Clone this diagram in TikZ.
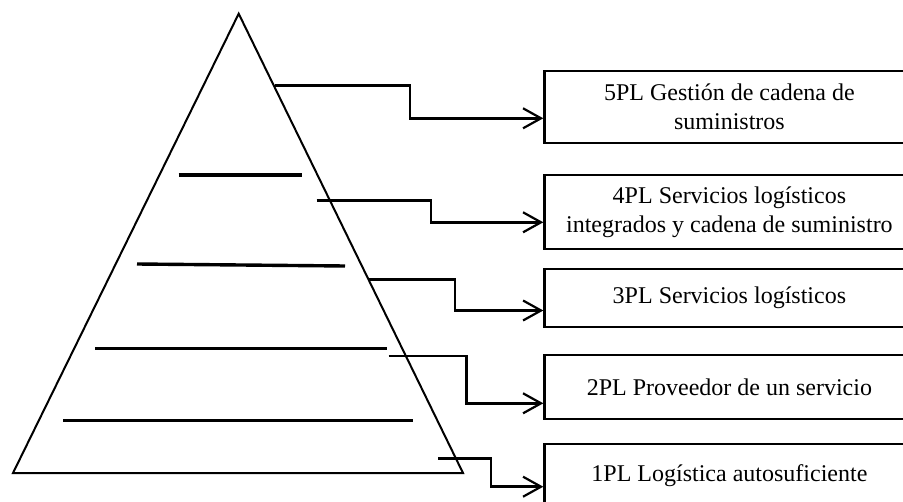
\documentclass[tikz,border=0pt]{standalone}
\usepackage{fontspec}
\setmainfont{Liberation Serif}
\usetikzlibrary{arrows.meta}
\tikzset{
  tri/.style={line width=1pt, line join=miter},
  level/.style={line width=1.7pt},
  conn/.style={line width=1.3pt, -{Straight Barb[length=9pt,width=10pt,line width=1.1pt]}},
  plbox/.style={draw, line width=1.1pt, rectangle, anchor=west, inner sep=0pt,
    minimum width=185pt, align=center,
    font=\fontsize{12}{14.5}\selectfont},
}
\begin{document}
\begin{tikzpicture}[x=0.5pt, y=-0.5pt]
\useasboundingbox (0,0) rectangle (903,502);
% pyramid
\coordinate (apex) at (238.7,13.7);
\coordinate (br) at (463,473);
\coordinate (bl) at (13,473);
\draw[tri] (apex) -- (br) -- (bl) -- cycle;
% level lines
\coordinate (l1a) at (178.5,175); \coordinate (l1b) at (301.5,175);
\coordinate (l2a) at (137,264);   \coordinate (l2b) at (345,266);
\coordinate (l3a) at (95,348.3);  \coordinate (l3b) at (386.5,348.3);
\coordinate (l4a) at (63,420.7);  \coordinate (l4b) at (413,420.7);
\draw[level] (l1a) -- (l1b);
\draw[level] (l2a) -- (l2b);
\draw[level] (l3a) -- (l3b);
\draw[level] (l4a) -- (l4b);
% boxes
\node[plbox, minimum height=35.85pt] (b5) at (543.3,106.85) {5PL Gestión de cadena de\\suministros};
\node[plbox, minimum height=37.15pt] (b4) at (543.3,212.15) {4PL Servicios logísticos\\integrados y cadena de suministro};
\node[plbox, minimum height=28.7pt] (b3) at (543.3,298) {3PL Servicios logísticos};
\node[plbox, minimum height=32pt] (b2) at (543.3,387) {2PL Proveedor de un servicio};
\node[plbox, minimum height=32pt] (b1) at (543.3,475.7) {1PL Logística autosuficiente};
% connector points
\coordinate (s5) at (275,85.7);  \coordinate (k5) at (410,118.3);  \coordinate (e5) at (543.3,118.3);
\coordinate (s4) at (316.7,200.3); \coordinate (k4) at (431,222.3); \coordinate (e4) at (543.3,222.3);
\coordinate (s3) at (368,279.5); \coordinate (k3) at (455,310.5);  \coordinate (e3) at (543.3,310.5);
\coordinate (s2) at (388.5,356); \coordinate (k2) at (466.7,403.3); \coordinate (e2) at (543.3,403.3);
\coordinate (s1) at (438.3,458.7); \coordinate (k1) at (491,486.7); \coordinate (e1) at (543.3,486.7);
\draw[conn] (s5) -| (k5) -- (e5);
\draw[conn] (s4) -| (k4) -- (e4);
\draw[conn] (s3) -| (k3) -- (e3);
\draw[conn] (s2) -| (k2) -- (e2);
\draw[conn] (s1) -| (k1) -- (e1);
\end{tikzpicture}
\end{document}
